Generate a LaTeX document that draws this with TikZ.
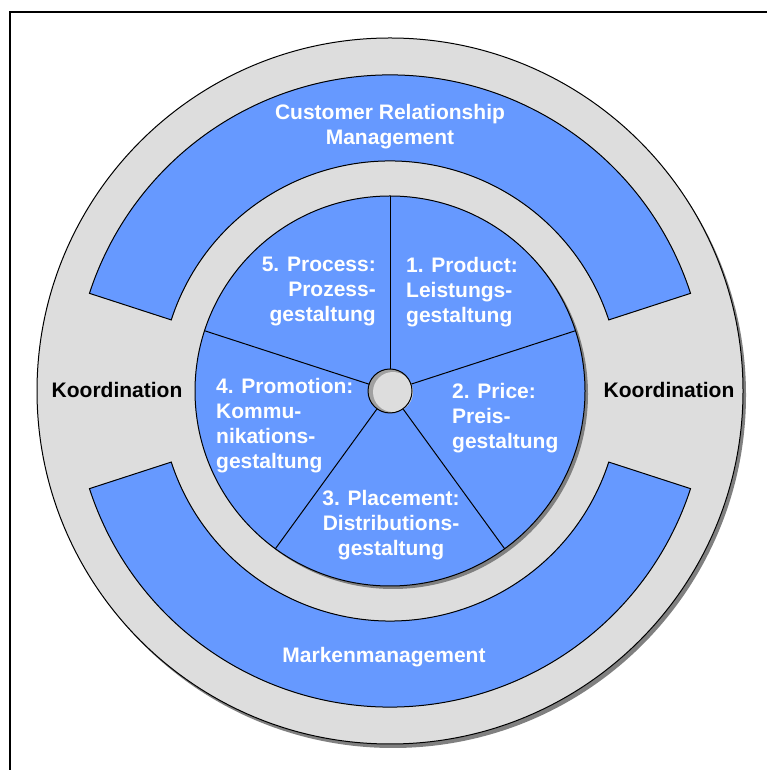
\documentclass[tikz,border=0pt]{standalone}
\usepackage{fontspec}
\setmainfont{Liberation Sans}
\definecolor{bandblue}{RGB}{102,153,255}
\definecolor{ringgray}{RGB}{221,221,221}
\definecolor{shadowgray}{RGB}{128,128,128}
\definecolor{hubdark}{RGB}{160,160,160}
\begin{document}
\begin{tikzpicture}[x=1pt,y=1pt,
  outline/.style={draw=black,line width=1pt},
  shadowfill/.style={fill=shadowgray,draw=none},
  wtext/.style={text=white,font=\bfseries\fontsize{21}{25}\selectfont,inner sep=0pt},
  btext/.style={text=black,font=\bfseries\fontsize{21}{25}\selectfont,inner sep=0pt}]
\useasboundingbox (0,0) rectangle (766,770);
\fill[white] (0,0) rectangle (766,770);
% frame
\draw[line width=1.7pt] (10,-5) -- (10,758) -- (771,758);
\coordinate (c) at (390,379);
% outer circle
\fill[shadowgray] ([shift={(3,-4)}]c) circle[radius=353pt];
\draw[outline,fill=ringgray] (c) circle[radius=353pt];
% CRM band
\fill[shadowgray,shift={(3,-3)}] ([shift={(18:316pt)}]c) arc[start angle=18,end angle=162,radius=316pt] -- ([shift={(162:230pt)}]c) arc[start angle=162,end angle=18,radius=230pt] -- cycle;
\draw[outline,fill=bandblue] ([shift={(18:316pt)}]c) arc[start angle=18,end angle=162,radius=316pt] -- ([shift={(162:230pt)}]c) arc[start angle=162,end angle=18,radius=230pt] -- cycle;
% Marken band
\fill[shadowgray,shift={(3,-3)}] ([shift={(198:316pt)}]c) arc[start angle=198,end angle=342,radius=316pt] -- ([shift={(342:230pt)}]c) arc[start angle=342,end angle=198,radius=230pt] -- cycle;
\draw[outline,fill=bandblue] ([shift={(198:316pt)}]c) arc[start angle=198,end angle=342,radius=316pt] -- ([shift={(342:230pt)}]c) arc[start angle=342,end angle=198,radius=230pt] -- cycle;
% pie
\fill[shadowgray] ([shift={(3,-3)}]c) circle[radius=195pt];
\draw[outline,fill=bandblue] (c) circle[radius=195pt];
% spokes
\foreach \a/\n in {90/s1,18/s2,-54/s3,-126/s4,162/s5}{
  \coordinate (\n) at ([shift={(\a:195pt)}]c);
  \draw[line width=1pt] (c) -- (\n);
}
% hub
\node[circle,minimum size=44pt,inner sep=0pt,fill=hubdark] (hubs) at (c) {};
\fill[ringgray] ([shift={(3,-1)}]c) circle[radius=20pt];
\node[circle,minimum size=44pt,inner sep=0pt,draw=black,line width=1pt] (hub) at (c) {};
% texts
\node[wtext,align=center] (crm) at (390,643) {Customer Relationship\\Management};
\node[wtext,align=center] (mm) at (384,113) {Markenmanagement};
\node[wtext,align=right,anchor=east] (p5) at (376,478) {5. Process:\\Prozess-\\gestaltung};
\node[wtext,align=left,anchor=west] (p1) at (406,478) {1. Product:\\Leistungs-\\gestaltung};
\node[wtext,align=left,anchor=west] (p2) at (452,352) {2. Price:\\Preis-\\gestaltung};
\node[wtext,align=center] (p3) at (391,245) {3. Placement:\\Distributions-\\gestaltung};
\node[wtext,align=left,anchor=west] (p4) at (216,344) {4. Promotion:\\Kommu-\\nikations-\\gestaltung};
\node[btext] (k1) at (117,380) {Koordination};
\node[btext] (k2) at (669,380) {Koordination};
\end{tikzpicture}
\end{document}
